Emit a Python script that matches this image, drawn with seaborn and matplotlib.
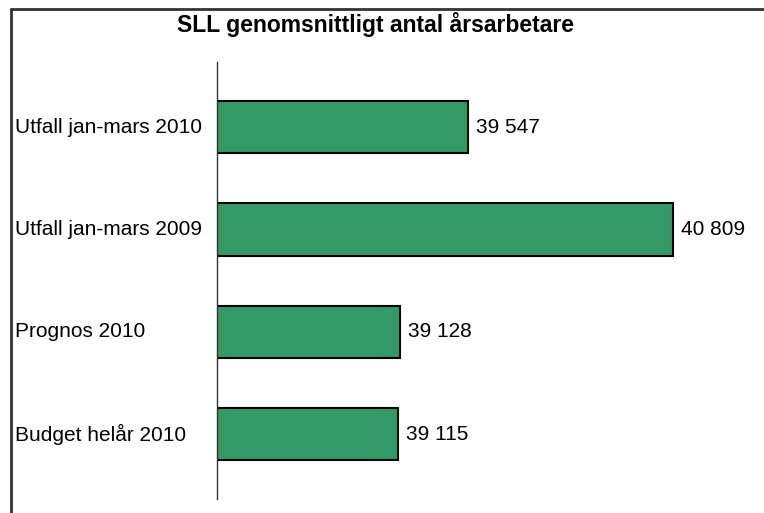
import matplotlib
matplotlib.use("Agg")
import matplotlib.pyplot as plt
import seaborn as sns
import pandas as pd
from matplotlib.lines import Line2D
from matplotlib.transforms import blended_transform_factory

categories = ["Utfall jan-mars 2010", "Utfall jan-mars 2009", "Prognos 2010", "Budget helår 2010"]
values = [39547, 40809, 39128, 39115]
value_labels = ["39 547", "40 809", "39 128", "39 115"]
title = "SLL genomsnittligt antal årsarbetare"

sns.set_theme(style="white")
plt.rcParams['font.family'] = ['Liberation Sans', 'DejaVu Sans']

df = pd.DataFrame({"kategori": categories, "varde": values})

fig = plt.figure(figsize=(7.64, 5.13), dpi=100)
ax = fig.add_axes([0.284, 0.027, 0.6375, 0.852])

sns.barplot(data=df, y="kategori", x="varde", orient="h", ax=ax,
            color="#339966", saturation=1, width=0.51,
            edgecolor="black", linewidth=1.5)

ax.set_xlim(38000, 41000)
ax.set_ylim(3.635, -0.635)
ax.set_xlabel("")
ax.set_ylabel("")
ax.set_xticks([])
for s in ["top", "right", "bottom"]:
    ax.spines[s].set_visible(False)
ax.spines["left"].set_color("#333333")
ax.spines["left"].set_linewidth(1.0)

ax.set_yticks(range(len(categories)))
ax.set_yticklabels([])
ax.tick_params(axis="y", length=0)
trans = blended_transform_factory(fig.transFigure, ax.transData)
for i, c in enumerate(categories):
    fig.text(15/764, i, c, transform=trans, ha="left", va="center",
             fontsize=15, color="black")

for i, (v, t) in enumerate(zip(values, value_labels)):
    ax.annotate(t, xy=(v, i), xytext=(6, 0), textcoords="offset points",
                ha="left", va="center", fontsize=15, color="black",
                annotation_clip=False)

fig.text(0.492, 0.953, title, ha="center", va="center", fontsize=16.5,
         fontweight="bold", color="black")

# outer frame (top and left)
fig.add_artist(Line2D([11/764, 1.0], [1 - 9/513, 1 - 9/513], color="#333333", lw=2,
                      transform=fig.transFigure))
fig.add_artist(Line2D([11/764, 11/764], [0, 1 - 9/513], color="#333333", lw=2,
                      transform=fig.transFigure))

fig.savefig("out.png", dpi=100, facecolor="white")
